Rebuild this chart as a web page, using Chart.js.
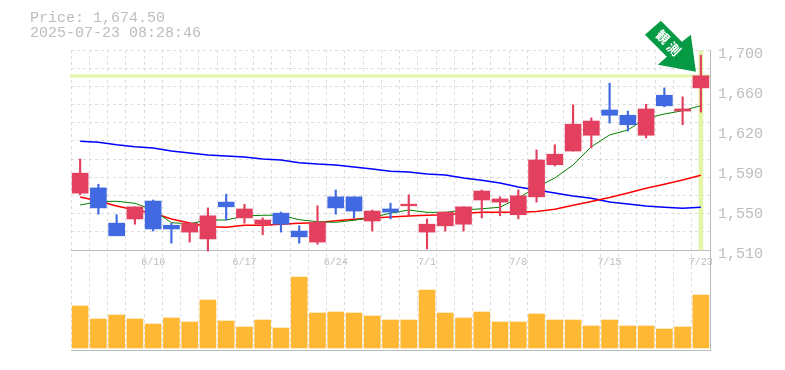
<!DOCTYPE html>
<html><head><meta charset="utf-8">
<style>html,body{margin:0;padding:0;background:#fff}canvas{display:block}</style>
<script src="https://cdn.jsdelivr.net/npm/chart.js@4"></script>
</head><body><canvas id="c" width="785" height="370"></canvas>
<script>
const categories=['6/4','6/5','6/6','6/9','6/10','6/11','6/12','6/13','6/16','6/17','6/18','6/19','6/20','6/23','6/24','6/25','6/26','6/27','6/30','7/1','7/2','7/3','7/4','7/7','7/8','7/9','7/10','7/11','7/14','7/15','7/16','7/17','7/18','7/22','7/23'];
const shownDates=['6/10','6/17','6/24','7/1','7/8','7/15','7/23'];
const opens=[1563,1568,1534.5,1538.5,1555.5,1532.5,1526,1519.5,1554.5,1539.5,1533.5,1544,1527,1516.5,1559.5,1559.5,1536.5,1548,1551,1526,1532,1533.5,1556.5,1554.5,1542.5,1559.5,1590,1603,1618,1642,1637,1618,1656,1641,1663];
const closes=[1582,1549,1522.5,1550,1529,1529,1534.5,1541.5,1550,1548,1537.5,1533.5,1521.5,1535.5,1549,1546,1546,1545,1552.5,1533.5,1545,1550,1565,1557.5,1560.5,1594.5,1600,1628.5,1631.5,1637,1628,1643,1646,1643,1674.5];
const highs=[1595.5,1571.5,1542.5,1550,1556.5,1534.5,1534.5,1549,1562,1552.5,1539.5,1545,1532,1551,1566,1559.5,1547,1553.5,1561.5,1538.5,1545,1550,1566,1559.5,1566,1604,1609,1647,1634.5,1667.5,1641,1647.5,1663,1654.5,1694];
const lows=[1561.5,1543,1522.5,1533.5,1527,1515.5,1516.5,1508,1537.5,1534.5,1523.5,1526,1515.5,1514.5,1543,1539.5,1527,1538.5,1542.5,1510,1527,1527,1539.5,1541.5,1538.5,1554.5,1589,1603,1606,1629.5,1622,1615.5,1645,1628,1640];
const maShort=[1551.8,1554.9,1555.3,1553.4,1547,1534.9,1534,1537.5,1537.5,1541.3,1542,1542,1537.8,1535.9,1535.3,1537.2,1540,1543.9,1547,1544.8,1544.8,1547,1548.2,1549.6,1558.4,1568.6,1577.4,1589.8,1607.1,1618.3,1623,1634.1,1638.2,1641.3,1646.1];
const maMid=[1559.4,1555.6,1550.8,1547,1544.2,1538.5,1534.7,1531.1,1530.6,1532.5,1532.5,1533.4,1534.4,1534.9,1536.8,1538.2,1539.4,1540.4,1541.3,1542,1542.5,1543.9,1544.8,1544.8,1544.8,1545.6,1547.7,1551.5,1555.1,1558.9,1563.2,1567.6,1571.4,1575.5,1580];
const maLong=[1612.3,1611.3,1609,1607.1,1605.9,1603,1601.2,1599.3,1598.3,1597.4,1595.5,1594.5,1592,1590.7,1589.8,1587.9,1586,1583.8,1583.1,1581.2,1580.3,1577.4,1575.2,1572.7,1568.9,1566,1563.2,1560.3,1558.1,1554.6,1552.7,1550.8,1549.6,1548.6,1549.6];
const volumes=[42,29,33,29,24,30,26,48,27,21,28,20,71,35,36,35,32,28,28,58,35,30,36,26,26,34,28,28,22,28,22,22,19,21,53];
const priceTicks=[1699,1661,1623,1585,1547,1509];
const priceTickLabels=['1,700','1,660','1,620','1,590','1,550','1,510'];
const gridPrices=[1699,1681.7,1664.5,1647.2,1629.9,1612.7,1595.4,1578.1,1560.8,1543.6,1526.3,1509,1414];
const solidPrices=[1509,1414];
const lastPrice=1674.5;
const headerLines=['Price: 1,674.50','2025-07-23 08:28:46'];
const arrowText=['観','測'];

const RED='#e3405f',BLUE='#4169e1',ORANGE='#ffb833',HILITE='#e3f5a9',GRAY='#bbbbbb',TXT='#bdbdbd',GRID='#dddddd';
const MONO='"Liberation Mono", monospace';
const n=categories.length;
const bodyColor=opens.map((o,i)=>closes[i]>=o?RED:BLUE);

const overlay={id:'overlay',
 beforeDatasetsDraw(ch){
  const c=ch.ctx,a=ch.chartArea,y=Math.round(ch.scales.y.getPixelForValue(lastPrice));
  c.save();c.fillStyle=HILITE;c.fillRect(a.left-1,y-1.5,a.right-a.left+1,3);c.restore();
 },
 afterDraw(ch){
  const c=ch.ctx;
  c.save();
  c.fillStyle=TXT;c.font='15px '+MONO;c.textBaseline='middle';c.textAlign='left';
  headerLines.forEach((t,i)=>c.fillText(t,30,18+i*15));
  const tx=ch.scales.x.getPixelForValue(n-1)-5,ty=ch.scales.y.getPixelForValue(lastPrice)-4;
  const shape=[[0,0],[-38,-7],[-29,-15],[-51,-37],[-35,-51],[-14,-30],[-5,-37]];
  c.fillStyle='#069a45';c.beginPath();
  shape.forEach((p,i)=>i?c.lineTo(tx+p[0],ty+p[1]):c.moveTo(tx+p[0],ty+p[1]));
  c.closePath();c.fill();
  c.fillStyle='#fff';c.font='bold 13px "Noto Sans CJK JP"';c.textAlign='center';
  [[-33,-35],[-22,-23]].forEach((p,i)=>{
    c.save();c.translate(tx+p[0],ty+p[1]);c.rotate(Math.PI/4);c.fillText(arrowText[i],0,0);c.restore();
  });
  c.restore();
 }};

new Chart(document.getElementById('c'),{
 data:{labels:categories,datasets:[
  {type:'bar',label:'Wick',data:highs.map((h,i)=>[lows[i],h]),backgroundColor:bodyColor,barThickness:1.5,grouped:false,order:2,yAxisID:'y'},
  {type:'bar',label:'Body',data:opens.map((o,i)=>[o,closes[i]]),backgroundColor:bodyColor,barThickness:16,grouped:false,order:1,yAxisID:'y'},
  {type:'line',label:'MA short',data:maShort,borderColor:'#008000',borderWidth:1,pointRadius:0,tension:0,order:5,yAxisID:'y'},
  {type:'line',label:'MA mid',data:maMid,borderColor:'#ff0000',borderWidth:1.5,pointRadius:0,tension:0,order:5,yAxisID:'y'},
  {type:'line',label:'MA long',data:maLong,borderColor:'#0000ff',borderWidth:1.5,pointRadius:0,tension:0,order:5,yAxisID:'y'},
  {type:'bar',label:'Last',data:categories.map((_,i)=>i===n-1?[priceTicks[5],priceTicks[0]-1]:null),backgroundColor:HILITE,barThickness:4,grouped:false,order:7,yAxisID:'y'},
  {type:'bar',label:'Volume',data:volumes,backgroundColor:ORANGE,barThickness:16,grouped:false,order:6,yAxisID:'v'}
 ]},
 plugins:[overlay],
 options:{responsive:false,animation:false,
  layout:{padding:{top:50,left:71,right:0,bottom:20}},
  plugins:{legend:{display:false},tooltip:{enabled:false}},
  scales:{
   x:{type:'category',offset:true,position:{y:priceTicks[5]},
      grid:{offset:true,color:GRID,drawTicks:false},border:{display:false,dash:[3,3]},
      afterFit(s){s.height=0},
      ticks:{autoSkip:false,maxRotation:0,padding:6,color:TXT,font:{family:MONO,size:10},
        callback(v){const l=this.getLabelForValue(v);return shownDates.includes(l)?l:''}}},
   y:{type:'linear',position:'right',min:1414,max:1699,
      afterFit(s){s.width=75},
      afterBuildTicks(s){const all=[...new Set([...gridPrices,...priceTicks])].sort((a,b)=>a-b);s.ticks=all.map(value=>({value}))},
      grid:{drawTicks:false,color(ctx){const v=ctx.tick&&ctx.tick.value;return !gridPrices.includes(v)?'rgba(0,0,0,0)':solidPrices.includes(v)?GRAY:GRID},lineWidth:1},
      border:{display:true,color:GRAY,width:1,dash(ctx){const v=ctx.tick&&ctx.tick.value;return solidPrices.includes(v)?[]:[3,3]}},
      ticks:{autoSkip:false,padding:8,labelOffset:4,color:TXT,font:{family:MONO,size:15},
        callback(v){const i=priceTicks.indexOf(v);return i>=0?priceTickLabels[i]:''}}},
   v:{type:'linear',display:false,min:-2,max:298}
  }}
});
</script></body></html>
